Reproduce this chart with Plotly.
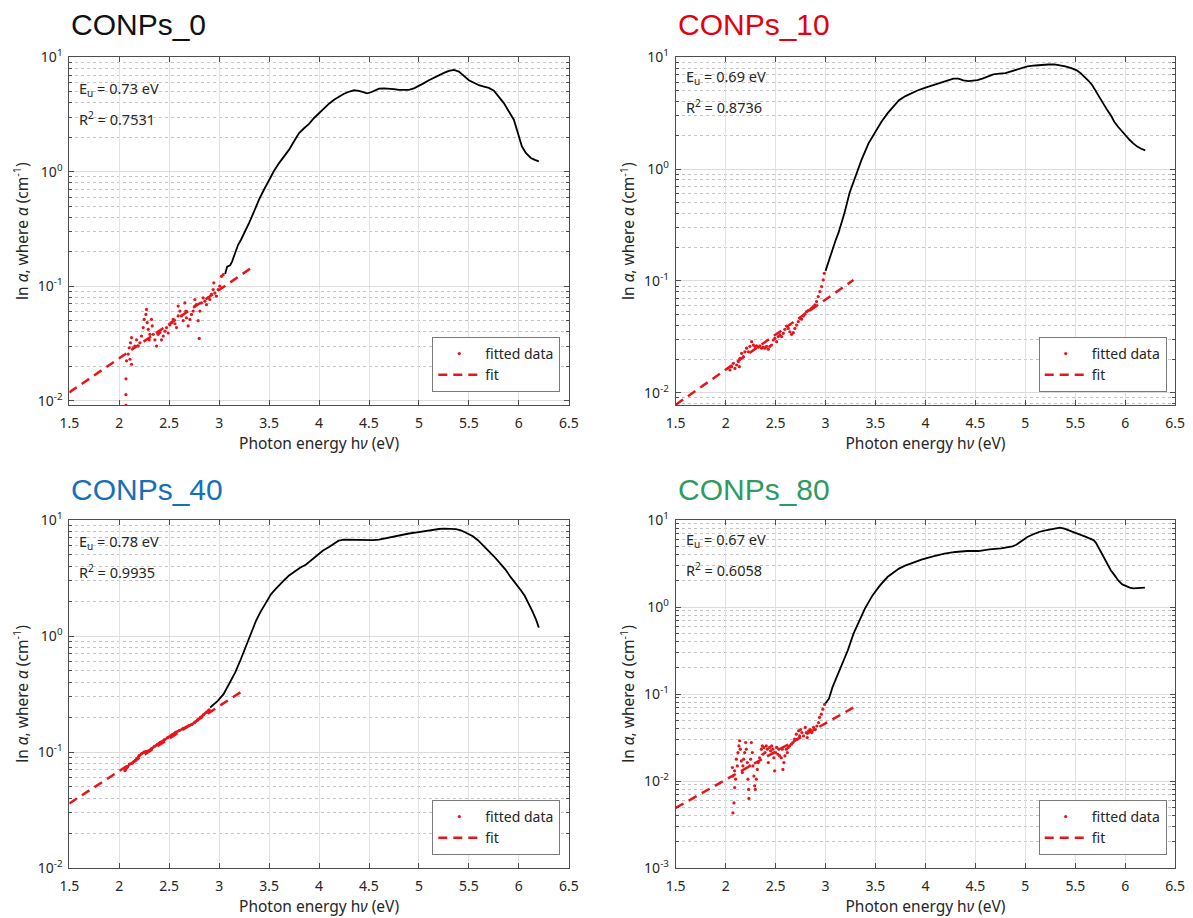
import plotly.graph_objects as go

# ------------------------------------------------------------------ data
titles = ["CONPs_0", "CONPs_10", "CONPs_40", "CONPs_80"]
title_colors = ["#111111", "#E3000F", "#1570B8", "#2F9A62"]
eu_labels = ["0.73", "0.69", "0.78", "0.67"]
r2_labels = ["0.7531", "0.8736", "0.9935", "0.6058"]

x_ticks = [1.5, 2, 2.5, 3, 3.5, 4, 4.5, 5, 5.5, 6, 6.5]
x_ticklabels = ["1.5", "2", "2.5", "3", "3.5", "4", "4.5", "5", "5.5", "6", "6.5"]

# CONPs_0
c0_x = [3.06, 3.08, 3.11, 3.13, 3.16, 3.19, 3.22, 3.26, 3.30, 3.35, 3.40, 3.45, 3.50, 3.55, 3.60,
        3.65, 3.70, 3.75, 3.80, 3.85, 3.90, 3.95, 4.00, 4.05, 4.10, 4.15, 4.20, 4.25, 4.30, 4.35,
        4.40, 4.45, 4.48, 4.52, 4.56, 4.60, 4.65, 4.70, 4.75, 4.80, 4.85, 4.90, 4.95, 5.00, 5.05,
        5.10, 5.15, 5.20, 5.25, 5.30, 5.35, 5.40, 5.45, 5.50, 5.55, 5.60, 5.65, 5.70, 5.75, 5.80,
        5.85, 5.90, 5.95, 6.00, 6.03, 6.07, 6.12, 6.16, 6.20]
c0_y = [0.128, 0.148, 0.152, 0.165, 0.195, 0.23, 0.256, 0.30, 0.358, 0.45, 0.573, 0.70, 0.855, 1.02, 1.19,
        1.37, 1.56, 1.85, 2.18, 2.40, 2.62, 2.95, 3.25, 3.6, 3.93, 4.25, 4.54, 4.8, 5.0, 5.15,
        5.1, 4.95, 4.85, 4.95, 5.1, 5.33, 5.35, 5.33, 5.28, 5.2, 5.18, 5.2, 5.35, 5.6, 5.95,
        6.3, 6.65, 7.0, 7.3, 7.6, 7.77, 7.5, 6.9, 6.3, 6.0, 5.7, 5.55, 5.4, 5.1, 4.5,
        3.98, 3.36, 2.85, 2.04, 1.67, 1.46, 1.32, 1.27, 1.23]
c0_fx = [2.067, 2.067, 2.067, 2.073, 2.09, 2.107, 2.123, 2.10, 2.113, 2.123,
         2.14, 2.157, 2.173, 2.19, 2.207, 2.223, 2.24, 2.25, 2.267, 2.273,
         2.28, 2.29, 2.30, 2.307, 2.323, 2.33, 2.34, 2.357, 2.373, 2.39,
         2.407, 2.423, 2.44, 2.457, 2.473, 2.49, 2.507, 2.523, 2.54, 2.557,
         2.573, 2.59, 2.59, 2.607, 2.623, 2.64, 2.657, 2.667, 2.673, 2.69,
         2.707, 2.723, 2.74, 2.757, 2.757, 2.773, 2.79, 2.80, 2.807, 2.823,
         2.84, 2.857, 2.873, 2.89, 2.907, 2.923, 2.94, 2.947, 2.957, 2.973,
         2.99, 3.007, 3.023, 3.04]
c0_fy = [0.0091, 0.0113, 0.0155, 0.0223, 0.0255, 0.023, 0.0208, 0.029, 0.032, 0.0356,
         0.029, 0.030, 0.034, 0.030, 0.032, 0.0367, 0.0435, 0.0513, 0.0567, 0.0627,
         0.048, 0.042, 0.034, 0.038, 0.0513, 0.045, 0.038, 0.034, 0.030, 0.038,
         0.0393, 0.034, 0.0367, 0.0405, 0.0435, 0.039, 0.046, 0.048, 0.0513, 0.047,
         0.0435, 0.055, 0.067, 0.0606, 0.055, 0.050, 0.0715, 0.0606, 0.053, 0.045,
         0.0513, 0.0567, 0.0606, 0.067, 0.0765, 0.069, 0.050, 0.035, 0.0606, 0.0715,
         0.079, 0.074, 0.069, 0.079, 0.0765, 0.085, 0.0935, 0.107, 0.087, 0.082,
         0.0935, 0.10, 0.122, 0.126]
c0_fit_x = [1.5, 3.35]
c0_fit_y = [0.0118, 0.15]

# CONPs_10
c10_x = [3.00, 3.015, 3.04, 3.07, 3.10, 3.13, 3.16, 3.19, 3.24, 3.30,
         3.36, 3.43, 3.51, 3.56, 3.62, 3.68, 3.735, 3.80, 3.85, 3.92,
         4.00, 4.08, 4.15, 4.22, 4.28, 4.33, 4.38, 4.43, 4.47, 4.52,
         4.57, 4.62, 4.68, 4.74, 4.80, 4.85, 4.91, 4.96, 5.02, 5.10,
         5.17, 5.23, 5.29, 5.35, 5.40, 5.46, 5.515, 5.55, 5.59, 5.63,
         5.67, 5.70, 5.74, 5.78, 5.82, 5.86, 5.89, 5.93, 5.97, 6.01,
         6.045, 6.08, 6.12, 6.16, 6.20]
c10_y = [0.123, 0.136, 0.16, 0.192, 0.23, 0.27, 0.33, 0.406, 0.612, 0.86,
         1.21, 1.70, 2.24, 2.65, 3.15, 3.65, 4.13, 4.5, 4.74, 5.05,
         5.36, 5.65, 5.93, 6.2, 6.44, 6.45, 6.22, 6.12, 6.14, 6.25,
         6.44, 6.75, 7.03, 7.15, 7.23, 7.45, 7.74, 8.0, 8.28, 8.45,
         8.57, 8.62, 8.63, 8.5, 8.28, 8.0, 7.64, 7.25, 6.76, 6.2,
         5.62, 5.05, 4.43, 3.88, 3.37, 2.98, 2.65, 2.38, 2.16, 1.98,
         1.82, 1.70, 1.59, 1.52, 1.47]
c10_fx = [2.043, 2.06, 2.077, 2.093, 2.11, 2.127, 2.137, 2.143, 2.16, 2.177,
          2.193, 2.21, 2.227, 2.243, 2.26, 2.277, 2.293, 2.31, 2.327, 2.343,
          2.36, 2.377, 2.393, 2.41, 2.427, 2.443, 2.46, 2.477, 2.493, 2.51,
          2.527, 2.543, 2.56, 2.577, 2.593, 2.61, 2.627, 2.643, 2.66, 2.677,
          2.693, 2.71, 2.727, 2.743, 2.76, 2.777, 2.793, 2.81, 2.827, 2.843,
          2.86, 2.877, 2.893, 2.91, 2.927, 2.943, 2.96, 2.977, 2.987]
c10_fy = [0.0160, 0.0171, 0.0183, 0.0165, 0.0177, 0.019, 0.0171, 0.0203, 0.0225, 0.021,
          0.0232, 0.025, 0.0232, 0.026, 0.0286, 0.0267, 0.026, 0.0262, 0.0255, 0.0262,
          0.025, 0.0255, 0.025, 0.026, 0.0245, 0.026, 0.0267, 0.0296, 0.0306, 0.0286,
          0.0318, 0.033, 0.0318, 0.034, 0.0369, 0.0395, 0.0376, 0.0351, 0.0333, 0.0344,
          0.0376, 0.0403, 0.0433, 0.0463, 0.0455, 0.0486, 0.0507, 0.0531, 0.0543, 0.055,
          0.057, 0.0589, 0.061, 0.0653, 0.0724, 0.0803, 0.089, 0.102, 0.117]
c10_fit_x = [1.5, 3.28]
c10_fit_y = [0.0078, 0.102]

# CONPs_40
c40_x = [2.91, 2.95, 2.986, 3.044, 3.10, 3.16, 3.217, 3.274, 3.33, 3.37,
         3.41, 3.45, 3.485, 3.52, 3.562, 3.61, 3.658, 3.70, 3.754, 3.81,
         3.87, 3.93, 3.985, 4.04, 4.10, 4.15, 4.196, 4.25, 4.31, 4.37,
         4.43, 4.48, 4.54, 4.60, 4.66, 4.71, 4.77, 4.83, 4.90, 4.98,
         5.06, 5.14, 5.20, 5.25, 5.31, 5.37, 5.42, 5.46, 5.50, 5.54,
         5.59, 5.636, 5.69, 5.75, 5.81, 5.866, 5.92, 5.98, 6.02, 6.06,
         6.10, 6.135, 6.17, 6.20]
c40_y = [0.242, 0.258, 0.276, 0.315, 0.385, 0.484, 0.63, 0.848, 1.14, 1.36,
         1.59, 1.83, 2.07, 2.3, 2.52, 2.8, 3.07, 3.33, 3.62, 3.88,
         4.13, 4.55, 5.03, 5.45, 5.86, 6.25, 6.64, 6.78, 6.75, 6.78,
         6.7, 6.64, 6.7, 6.78, 6.95, 7.14, 7.3, 7.48, 7.65, 7.83,
         8.05, 8.26, 8.36, 8.42, 8.42, 8.35, 8.15, 7.83, 7.55, 7.24,
         6.7, 6.14, 5.5, 4.87, 4.25, 3.74, 3.2, 2.78, 2.48, 2.21,
         1.9, 1.64, 1.4, 1.18]
c40_fx = [2.057, 2.08, 2.103, 2.13, 2.16, 2.18, 2.199, 2.225, 2.249, 2.27,
          2.295, 2.325, 2.353, 2.38, 2.41, 2.45, 2.487, 2.525, 2.564, 2.60,
          2.64, 2.67, 2.698, 2.727, 2.756, 2.785, 2.813, 2.842, 2.871, 2.90]
c40_fy = [0.069, 0.074, 0.0788, 0.08, 0.084, 0.088, 0.093, 0.097, 0.10, 0.101,
          0.1025, 0.107, 0.112, 0.116, 0.121, 0.127, 0.1337, 0.14, 0.1477, 0.153,
          0.16, 0.164, 0.1685, 0.173, 0.18, 0.189, 0.199, 0.209, 0.219, 0.231]
c40_fit_x = [1.5, 3.22]
c40_fit_y = [0.036, 0.33]

# CONPs_80
c80_x = [2.996, 3.034, 3.07, 3.11, 3.167, 3.223, 3.28, 3.337, 3.394, 3.47,
         3.545, 3.62, 3.68, 3.735, 3.79, 3.85, 3.96, 4.076, 4.19, 4.30,
         4.417, 4.53, 4.64, 4.757, 4.87, 4.91, 4.947, 4.98, 5.02, 5.08,
         5.136, 5.19, 5.25, 5.30, 5.345, 5.39, 5.44, 5.50, 5.553, 5.60,
         5.648, 5.686, 5.71, 5.74, 5.78, 5.818, 5.855, 5.894, 5.93, 5.97,
         6.01, 6.045, 6.08, 6.12, 6.16, 6.197]
c80_y = [0.0774, 0.0883, 0.12, 0.157, 0.223, 0.318, 0.494, 0.703, 0.957, 1.36,
         1.77, 2.21, 2.5, 2.76, 2.97, 3.15, 3.5, 3.82, 4.1, 4.29,
         4.4, 4.4, 4.6, 4.72, 4.98, 5.2, 5.58, 5.95, 6.38, 6.85,
         7.28, 7.55, 7.81, 8.0, 8.17, 7.95, 7.6, 7.2, 6.84, 6.45,
         6.1, 5.84, 5.4, 4.68, 3.85, 3.15, 2.65, 2.31, 2.02, 1.82,
         1.72, 1.67, 1.64, 1.64, 1.65, 1.67]
c80_fx = [2.073, 2.083, 2.09, 2.073, 2.067, 2.09, 2.10, 2.107, 2.117, 2.123,
          2.133, 2.14, 2.147, 2.157, 2.167, 2.173, 2.18, 2.19, 2.20, 2.207,
          2.217, 2.223, 2.23, 2.233, 2.24, 2.25, 2.257, 2.267, 2.273, 2.283,
          2.29, 2.297, 2.307, 2.317, 2.327, 2.34, 2.357, 2.367, 2.373, 2.383,
          2.393, 2.407, 2.417, 2.427, 2.44, 2.45, 2.46, 2.473, 2.483, 2.49,
          2.50, 2.51, 2.523, 2.533, 2.54, 2.557, 2.567, 2.573, 2.583, 2.593,
          2.607, 2.617, 2.627, 2.64, 2.657, 2.673, 2.69, 2.707, 2.717, 2.73,
          2.74, 2.75, 2.763, 2.78, 2.797, 2.807, 2.817, 2.83, 2.847, 2.863,
          2.88, 2.897, 2.913, 2.93, 2.94, 2.957, 2.973, 2.99]
c80_fy = [0.0043, 0.0056, 0.0084, 0.0114, 0.0143, 0.0131, 0.0105, 0.0178, 0.0149, 0.0212,
          0.0253, 0.029, 0.0232, 0.017, 0.0125, 0.0149, 0.0178, 0.0212, 0.0277, 0.0232,
          0.0163, 0.0105, 0.008, 0.0063, 0.0149, 0.0178, 0.0277, 0.0212, 0.0149, 0.0114,
          0.0088, 0.008, 0.0105, 0.0136, 0.0163, 0.0185, 0.0232, 0.0253, 0.0203, 0.0243,
          0.0212, 0.0253, 0.0232, 0.0163, 0.0243, 0.0222, 0.0253, 0.0232, 0.0185, 0.0131,
          0.0212, 0.0243, 0.0203, 0.0232, 0.0194, 0.0185, 0.0232, 0.0136, 0.0163, 0.0194,
          0.0232, 0.0212, 0.0243, 0.0253, 0.0265, 0.0277, 0.0303, 0.0345, 0.0303, 0.0378,
          0.033, 0.039, 0.036, 0.033, 0.0413, 0.036, 0.0316, 0.0378, 0.039, 0.036,
          0.0413, 0.039, 0.0429, 0.047, 0.0538, 0.0587, 0.0669, 0.0758]
c80_fit_x = [1.5, 3.28]
c80_fit_y = [0.0049, 0.07]

# ------------------------------------------------------------------ layout geometry
W, H = 1193, 918
FONT = "Noto Sans"
TEXT = "#262626"
AXC = "#4d4d4d"
RED = "#E8141B"


def fx(p):
    return p / W


def fy(p):
    return 1 - p / H


cols = [(69.3, 568.8), (675.7, 1175.2)]
rows = [(57.3, 405.0), (520.0, 868.0)]

panels = [
    dict(bx=c0_x, by=c0_y, fx_=c0_fx, fy_=c0_fy, fitx=c0_fit_x, fity=c0_fit_y,
         yr=[-2.038, 1.0], decs=[-2, -1, 0, 1], col=0, row=0, join=False,
         txt_y=(89, 118)),
    dict(bx=c10_x, by=c10_y, fx_=c10_fx, fy_=c10_fy, fitx=c10_fit_x, fity=c10_fit_y,
         yr=[-2.11, 1.0], decs=[-2, -1, 0, 1], col=1, row=0, join=False,
         txt_y=(77, 107)),
    dict(bx=c40_x, by=c40_y, fx_=c40_fx, fy_=c40_fy, fitx=c40_fit_x, fity=c40_fit_y,
         yr=[-2.0, 1.0], decs=[-2, -1, 0, 1], col=0, row=1, join=True,
         txt_y=(542, 571)),
    dict(bx=c80_x, by=c80_y, fx_=c80_fx, fy_=c80_fy, fitx=c80_fit_x, fity=c80_fit_y,
         yr=[-3.0, 1.0], decs=[-3, -2, -1, 0, 1], col=1, row=1, join=False,
         txt_y=(540, 569)),
]

fig = go.Figure()
layout = dict(
    width=W, height=H, autosize=False,
    margin=dict(l=0, r=0, t=0, b=0),
    paper_bgcolor="white", plot_bgcolor="white",
    font=dict(family=FONT, size=14, color=TEXT),
    annotations=[],
)

for i, p in enumerate(panels):
    n = "" if i == 0 else str(i + 1)
    xa, ya = "x" + n, "y" + n
    leg = "legend" + n
    x0, x1 = cols[p["col"]]
    y0, y1 = rows[p["row"]]

    fig.add_trace(go.Scatter(
        x=p["bx"], y=p["by"], xaxis=xa, yaxis=ya, mode="lines",
        line=dict(color="black", width=1.8), showlegend=False, hoverinfo="skip"))
    if p["join"]:
        fig.add_trace(go.Scatter(
            x=p["fx_"], y=p["fy_"], xaxis=xa, yaxis=ya, mode="lines",
            line=dict(color=RED, width=2.5), showlegend=False, hoverinfo="skip"))
    fig.add_trace(go.Scatter(
        x=p["fx_"], y=p["fy_"], xaxis=xa, yaxis=ya, mode="markers",
        marker=dict(color=RED, size=3.2, line=dict(width=0)),
        name="fitted data", legend=leg))
    fig.add_trace(go.Scatter(
        x=p["fitx"], y=p["fity"], xaxis=xa, yaxis=ya, mode="lines",
        line=dict(color=RED, width=2.5, dash="9px,6px"),
        name="fit", legend=leg))

    layout["xaxis" + n] = dict(
        domain=[fx(x0), fx(x1)], anchor=ya, range=[1.5, 6.5],
        tickmode="array", tickvals=x_ticks, ticktext=x_ticklabels,
        ticks="inside", ticklen=5, tickcolor=AXC, tickwidth=1,
        showline=True, linecolor=AXC, linewidth=1, mirror="ticks",
        showgrid=True, gridcolor="#e2e2e2", gridwidth=1, zeroline=False,
        tickfont=dict(family=FONT, size=14, color=TEXT), ticklabelstandoff=5,
        title=dict(text="Photon energy h<i>ν</i> (eV)", font=dict(family=FONT, size=15.5, color=TEXT),
                   standoff=6),
        automargin=False,
    )
    decs = p["decs"]
    minor_vals = [m * 10 ** d for d in decs[:-1] for m in range(2, 10)]
    minor_vals = [m * 10 ** (decs[0] - 1) for m in range(2, 10)] + minor_vals
    layout["yaxis" + n] = dict(
        domain=[fy(y1), fy(y0)], anchor=xa, type="log", range=p["yr"],
        tickmode="array", tickvals=[10 ** d for d in decs],
        ticktext=["10<sup>%d</sup>" % d for d in decs],
        ticks="inside", ticklen=5, tickcolor=AXC, tickwidth=1,
        showline=True, linecolor=AXC, linewidth=1, mirror="ticks",
        showgrid=True, gridcolor="#dcdcdc", gridwidth=1, zeroline=False,
        minor=dict(tickmode="array", tickvals=minor_vals, ticks="inside", ticklen=3,
                   tickcolor=AXC, showgrid=True, gridcolor="#c4c4c4", griddash="dot",
                   gridwidth=1),
        tickfont=dict(family=FONT, size=14, color=TEXT), ticklabelstandoff=3,
        title=dict(text="ln <i>α</i>, where <i>α</i> (cm<sup>-1</sup>)",
                   font=dict(family=FONT, size=15.5, color=TEXT), standoff=5),
        automargin=False,
    )
    layout[leg] = dict(
        x=fx(x1 - 8.5), y=fy(y1 - 13), xanchor="right", yanchor="bottom",
        xref="paper", yref="paper",
        bgcolor="white", bordercolor="#7a7a7a", borderwidth=1,
        font=dict(family=FONT, size=14, color=TEXT), itemwidth=42,
        tracegroupgap=0,
    )
    layout["annotations"].append(dict(
        text=titles[i], x=fx(x0), y=fy(25 if p["row"] == 0 else 490),
        xref="paper", yref="paper", xanchor="left", yanchor="middle", showarrow=False,
        font=dict(family="Liberation Sans", size=30, color=title_colors[i])))
    layout["annotations"].append(dict(
        text="E<sub>u</sub> = %s eV" % eu_labels[i], x=fx(x0 + 8), y=fy(p["txt_y"][0]),
        xref="paper", yref="paper", xanchor="left", yanchor="middle", showarrow=False,
        font=dict(family=FONT, size=14.5, color=TEXT)))
    layout["annotations"].append(dict(
        text="R<sup>2</sup> = %s" % r2_labels[i], x=fx(x0 + 8), y=fy(p["txt_y"][1]),
        xref="paper", yref="paper", xanchor="left", yanchor="middle", showarrow=False,
        font=dict(family=FONT, size=14.5, color=TEXT)))

fig.update_layout(**layout)
fig.write_html("out.html")
